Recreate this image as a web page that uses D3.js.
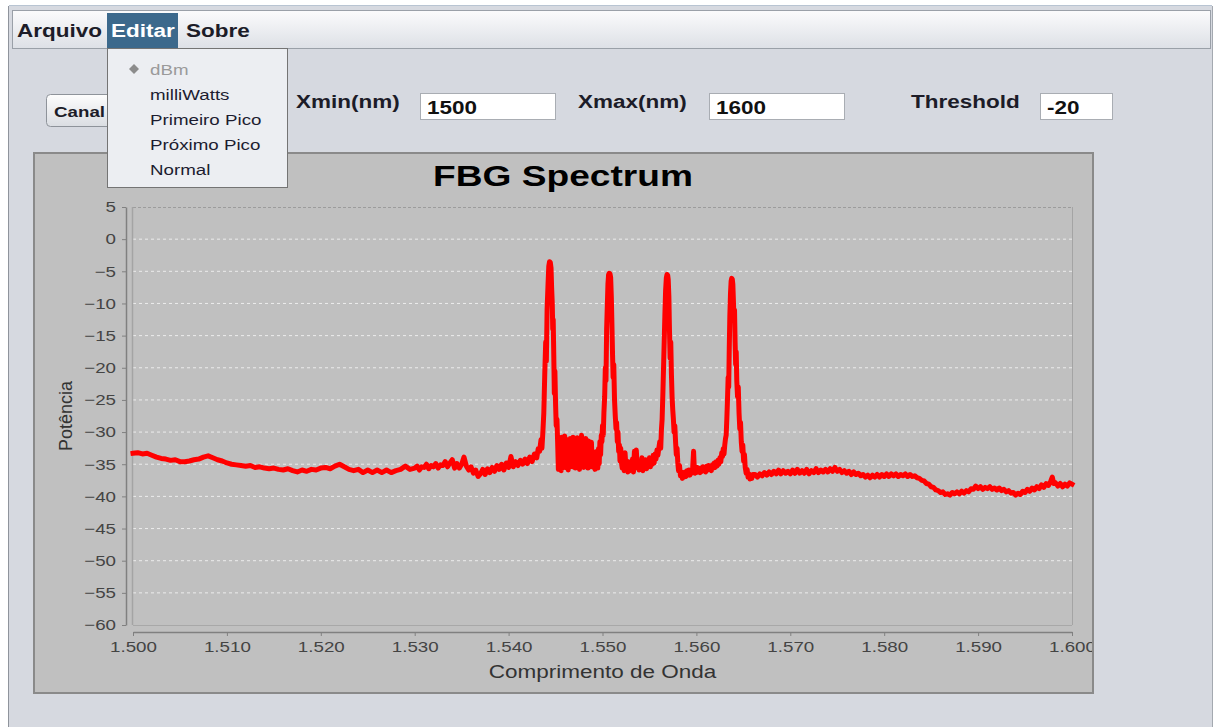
<!DOCTYPE html>
<html><head><meta charset="utf-8">
<script src="https://cdn.jsdelivr.net/npm/d3@7"></script>
<style>html,body{margin:0;padding:0;background:#fff;overflow:hidden}svg{display:block}</style>
</head><body><svg id="c" width="1214" height="727"></svg>
<script>
// ---------- DATA ----------
const chartTitle = "FBG Spectrum";
const xLabel = "Comprimento de Onda";
const yLabel = "Potência";
const menuItems = ["Arquivo", "Editar", "Sobre"];
const dropdownItems = ["dBm", "milliWatts", "Primeiro Pico", "Próximo Pico", "Normal"];
const fieldLabels = ["Xmin(nm)", "Xmax(nm)", "Threshold"];
const fieldValues = ["1500", "1600", "-20"];
const buttonLabel = "Canal";
const xTicks = [1500, 1510, 1520, 1530, 1540, 1550, 1560, 1570, 1580, 1590, 1600];
const yTicks = [5, 0, -5, -10, -15, -20, -25, -30, -35, -40, -45, -50, -55, -60];

// spectrum: [wavelength nm, power dBm]
const baselineLeft = [
[1500.0,-33.3],[1500.5,-33.2],[1501.0,-33.4],[1501.5,-33.3],[1502.0,-33.6],[1502.5,-33.9],
[1503.0,-34.1],[1503.5,-34.2],[1504.0,-34.4],[1504.5,-34.3],[1505.0,-34.6],[1505.5,-34.6],
[1506.0,-34.5],[1506.5,-34.3],[1507.0,-34.2],[1507.5,-33.9],[1508.0,-33.7],[1508.5,-34.0],
[1509.0,-34.3],[1509.5,-34.5],[1510.0,-34.8],[1510.5,-35.0],[1511.0,-35.1],[1511.5,-35.2],
[1512.0,-35.3],[1512.5,-35.2],[1513.0,-35.5],[1513.5,-35.4],[1514.0,-35.6],[1514.5,-35.7],
[1515.0,-35.6],[1515.5,-35.8],[1516.0,-35.9],[1516.5,-35.7],[1517.0,-36.0],[1517.5,-36.2],
[1518.0,-35.9],[1518.5,-36.1],[1519.0,-35.8],[1519.5,-35.9],[1520.0,-35.6],[1520.5,-35.5],
[1521.0,-35.7],[1521.5,-35.3],[1522.0,-35.0],[1522.5,-35.4],[1523.0,-35.8],[1523.5,-36.0],
[1524.0,-35.8],[1524.5,-36.3],[1525.0,-35.9],[1525.5,-36.3],[1526.0,-35.9],[1526.5,-36.3],
[1527.0,-35.9],[1527.5,-36.3],[1528.0,-36.0],[1528.5,-35.8],[1529.0,-35.3],[1529.5,-35.8],
[1530.0,-35.6],[1530.25,-35.3],[1530.5,-35.9],[1530.75,-35.4],[1531.0,-35.5],[1531.25,-35.0],
[1531.5,-35.7],[1531.75,-35.2],[1532.0,-35.4],[1532.25,-34.9],[1532.5,-35.6],[1532.75,-35.1],
[1533.0,-35.2],[1533.25,-34.6],[1533.5,-35.4],[1533.75,-34.8],[1534.0,-34.3],[1534.25,-35.6],
[1534.5,-34.9],[1534.75,-35.6],[1535.0,-35.0],[1535.25,-33.9],[1535.5,-35.3],[1535.75,-35.9],
[1536.0,-35.4],[1536.25,-36.4],[1536.5,-35.9],[1536.75,-36.9],[1537.0,-36.5],[1537.25,-35.8],
[1537.5,-36.6],[1537.75,-35.7],[1538.0,-36.3],[1538.25,-35.5],[1538.5,-36.1],[1538.75,-35.2],
[1539.0,-35.8],[1539.25,-35.0],[1539.5,-35.9],[1539.75,-34.8],[1540.0,-35.5],[1540.25,-33.8],
[1540.5,-35.4],[1540.75,-34.6],[1541.0,-35.2],[1541.25,-34.4],[1541.5,-35.0],[1541.75,-34.2],
[1542.0,-34.9],[1542.25,-33.9],[1542.5,-34.6],[1542.75,-33.4],[1543.0,-34.0]
];
const peakRegion = [
[1543.15,-32.6],[1543.3,-33.0],[1543.45,-31.2],[1543.55,-32.5],[1543.65,-30.0],[1543.75,-27.0],
[1543.85,-21.0],[1543.95,-16.0],[1544.02,-19.0],[1544.1,-11.0],[1544.2,-7.0],[1544.28,-4.2],
[1544.36,-3.5],[1544.44,-3.6],[1544.52,-4.5],[1544.58,-7.5],[1544.65,-10.0],[1544.7,-14.0],
[1544.75,-12.5],[1544.81,-18.0],[1544.87,-24.0],[1544.93,-20.5],[1545.0,-25.5],[1545.07,-29.0],
[1545.15,-28.0],[1545.22,-31.5],[1545.3,-35.8],[1545.38,-31.0],
[1545.45,-35.2],[1545.52,-32.2],[1545.6,-36.0],[1545.67,-30.8],[1545.75,-34.0],[1545.82,-31.5],
[1545.9,-35.5],[1545.97,-30.6],[1546.05,-34.8],[1546.12,-32.0],[1546.2,-35.6],[1546.28,-31.2],
[1546.35,-35.9],[1546.42,-32.5],[1546.5,-35.2],[1546.57,-31.0],[1546.65,-34.5],[1546.72,-31.6],
[1546.8,-35.4],[1546.87,-30.8],[1546.95,-34.0],[1547.02,-32.2],[1547.1,-35.6],[1547.17,-31.0],
[1547.25,-34.9],[1547.32,-30.9],[1547.4,-35.3],[1547.47,-32.0],[1547.55,-35.8],[1547.62,-31.5],
[1547.7,-34.6],[1547.77,-30.5],[1547.85,-33.8],[1547.92,-31.2],[1548.0,-35.5],[1548.07,-31.8],
[1548.15,-34.7],[1548.22,-31.0],[1548.3,-35.2],[1548.37,-32.5],[1548.45,-35.6],[1548.52,-31.4],
[1548.6,-34.6],[1548.67,-32.0],[1548.75,-35.4],[1548.82,-31.6],[1548.9,-35.0],[1548.97,-33.0],
[1549.05,-35.5],[1549.12,-33.2],[1549.2,-35.8],[1549.28,-34.0],[1549.35,-35.4],[1549.42,-33.0],
[1549.5,-35.6],[1549.57,-32.6],[1549.65,-34.9],[1549.72,-31.5],[1549.8,-33.5],[1549.87,-30.5],
[1549.94,-31.5],[1550.0,-29.0],[1550.08,-30.5],[1550.15,-27.0],[1550.23,-24.5],[1550.3,-20.0],
[1550.37,-22.0],[1550.44,-14.0],[1550.52,-10.0],[1550.58,-7.0],[1550.65,-5.5],[1550.72,-5.3],
[1550.8,-5.4],[1550.87,-6.0],[1550.94,-9.0],[1551.0,-13.0],[1551.07,-18.0],[1551.13,-21.5],
[1551.2,-19.5],[1551.28,-25.0],[1551.36,-27.5],[1551.44,-29.5],[1551.5,-28.5],[1551.58,-31.5],
[1551.65,-30.0],[1551.72,-33.0],[1551.8,-32.0],[1551.86,-34.5],[1551.94,-32.5],[1552.02,-34.8],
[1552.1,-35.6],[1552.2,-34.0],[1552.3,-36.0],[1552.4,-33.2],[1552.5,-35.5],[1552.6,-34.5],
[1552.7,-36.2],[1552.8,-35.0],[1552.9,-36.0],[1553.0,-34.6],[1553.1,-35.8],[1553.2,-34.2],
[1553.3,-36.2],[1553.4,-33.0],[1553.5,-35.6],[1553.6,-32.8],[1553.7,-35.4],[1553.8,-34.5],
[1553.9,-35.9],[1554.0,-34.6],[1554.1,-35.5],[1554.2,-34.0],[1554.3,-36.0],[1554.4,-34.8],
[1554.5,-35.6],[1554.6,-34.3],[1554.7,-35.7],[1554.8,-34.5],[1554.9,-35.3],[1555.0,-34.0],
[1555.1,-35.4],[1555.2,-34.3],[1555.3,-35.0],[1555.4,-33.6],[1555.5,-34.8],[1555.6,-33.4],
[1555.7,-34.2],[1555.8,-32.8],[1555.9,-33.6],[1556.0,-32.5],[1556.1,-31.5],[1556.2,-32.5],
[1556.28,-29.5],[1556.35,-28.0],[1556.43,-24.0],[1556.5,-20.0],[1556.57,-16.0],[1556.64,-12.0],
[1556.72,-8.0],[1556.8,-6.0],[1556.87,-5.5],[1556.94,-5.6],[1557.0,-6.3],[1557.07,-9.0],
[1557.13,-14.0],[1557.2,-18.5],[1557.27,-16.0],[1557.34,-21.0],[1557.41,-24.5],[1557.48,-26.5],
[1557.55,-28.0],[1557.62,-30.0],[1557.7,-29.0],[1557.78,-31.5],[1557.86,-33.5],[1557.94,-32.5],
[1558.02,-34.8],[1558.1,-36.0],[1558.2,-35.2],[1558.3,-36.8],[1558.4,-36.2],[1558.5,-37.2],
[1558.6,-36.4],[1558.7,-37.0],[1558.8,-36.2],[1558.9,-36.9],[1559.0,-36.0],[1559.1,-36.6],
[1559.2,-35.9],[1559.3,-36.7],[1559.4,-36.0],[1559.5,-36.4],[1559.6,-35.7],[1559.7,-33.0],
[1559.78,-35.9],[1559.86,-36.4],[1559.94,-35.6],[1560.0,-36.3],[1560.1,-35.5],[1560.2,-36.2],
[1560.3,-35.8],[1560.4,-36.3],[1560.5,-35.6],[1560.6,-36.1],[1560.7,-35.4],[1560.8,-36.0],
[1560.9,-35.5],[1561.0,-36.2],[1561.1,-35.3],[1561.2,-35.9],[1561.3,-35.2],[1561.4,-35.8],
[1561.5,-35.4],[1561.6,-36.0],[1561.7,-35.1],[1561.8,-35.6],[1561.9,-34.8],[1562.0,-35.5],
[1562.1,-34.6],[1562.2,-35.3],[1562.3,-34.4],[1562.4,-35.0],[1562.5,-34.0],[1562.6,-34.6],
[1562.7,-33.2],[1562.78,-33.8],[1562.86,-32.6],[1562.94,-33.4],[1563.02,-32.0],[1563.1,-31.0],
[1563.17,-30.5],[1563.24,-28.0],[1563.31,-25.0],[1563.38,-21.5],[1563.44,-23.0],[1563.5,-17.0],
[1563.56,-12.0],[1563.63,-8.5],[1563.7,-6.5],[1563.76,-6.1],[1563.82,-6.2],[1563.88,-7.0],
[1563.94,-9.5],[1564.0,-12.5],[1564.06,-11.0],[1564.12,-16.0],[1564.18,-19.5],[1564.24,-17.5],
[1564.3,-22.0],[1564.38,-24.5],[1564.46,-23.0],[1564.54,-27.0],[1564.62,-29.5],[1564.7,-28.5],
[1564.78,-31.5],[1564.86,-33.0],[1564.94,-32.0],[1565.03,-34.5],[1565.12,-33.5],[1565.2,-35.5],
[1565.3,-36.4],[1565.4,-35.8],[1565.5,-37.0],[1565.6,-36.5],[1565.7,-37.3],[1565.8,-36.7],
[1565.9,-37.2],[1566.0,-36.6]
];
const baselineRight = [
[1566.25,-36.6],[1566.5,-37.0],[1566.75,-36.5],[1567.0,-36.8],[1567.25,-36.3],[1567.5,-36.7],
[1567.75,-36.2],[1568.0,-36.6],[1568.25,-36.1],[1568.5,-36.5],[1568.75,-35.9],[1569.0,-36.5],
[1569.25,-36.0],[1569.5,-36.4],[1569.75,-36.1],[1570.0,-36.5],[1570.25,-35.9],[1570.5,-36.4],
[1570.75,-35.8],[1571.0,-36.4],[1571.25,-36.0],[1571.5,-36.4],[1571.75,-35.8],[1572.0,-36.5],
[1572.25,-36.0],[1572.5,-36.3],[1572.75,-35.7],[1573.0,-36.3],[1573.25,-35.9],[1573.5,-36.2],
[1573.75,-35.8],[1574.0,-36.2],[1574.25,-35.7],[1574.5,-36.1],[1574.75,-35.5],[1575.0,-36.1],
[1575.25,-35.8],[1575.5,-36.3],[1575.75,-36.0],[1576.0,-36.4],[1576.25,-36.1],[1576.5,-36.6],
[1576.75,-36.2],[1577.0,-36.6],[1577.25,-36.4],[1577.5,-36.8],[1577.75,-36.6],[1578.0,-37.0],
[1578.25,-36.7],[1578.5,-37.1],[1578.75,-36.7],[1579.0,-37.0],[1579.25,-36.6],[1579.5,-37.0],
[1579.75,-36.6],[1580.0,-36.9],[1580.25,-36.5],[1580.5,-36.9],[1580.75,-36.5],[1581.0,-36.8],
[1581.25,-36.5],[1581.5,-36.9],[1581.75,-36.6],[1582.0,-36.8],[1582.25,-36.5],[1582.5,-36.9],
[1582.75,-36.6],[1583.0,-36.9],[1583.25,-36.8],[1583.5,-37.1],[1583.75,-37.2],[1584.0,-37.5],
[1584.25,-37.6],[1584.5,-38.0],[1584.75,-38.1],[1585.0,-38.5],[1585.25,-38.6],[1585.5,-39.0],
[1585.75,-39.1],[1586.0,-39.4],[1586.25,-39.3],[1586.5,-39.7],[1586.75,-39.6],[1587.0,-39.8],
[1587.25,-39.4],[1587.5,-39.6],[1587.75,-39.3],[1588.0,-39.6],[1588.25,-39.2],[1588.5,-39.5],
[1588.75,-39.1],[1589.0,-39.3],[1589.25,-38.8],[1589.5,-38.9],[1589.75,-38.4],[1590.0,-38.8],
[1590.25,-38.5],[1590.5,-38.9],[1590.75,-38.6],[1591.0,-38.8],[1591.25,-38.5],[1591.5,-38.9],
[1591.75,-38.7],[1592.0,-39.0],[1592.25,-38.7],[1592.5,-39.1],[1592.75,-38.9],[1593.0,-39.3],
[1593.25,-39.1],[1593.5,-39.5],[1593.75,-39.4],[1594.0,-39.8],[1594.25,-39.5],[1594.5,-39.7],
[1594.75,-39.2],[1595.0,-39.4],[1595.25,-38.9],[1595.5,-39.2],[1595.75,-38.7],[1596.0,-39.0],
[1596.25,-38.5],[1596.5,-38.8],[1596.75,-38.2],[1597.0,-38.6],[1597.25,-38.0],[1597.5,-38.3],
[1597.75,-37.6],[1597.9,-37.0],[1598.05,-38.0],[1598.25,-37.9],[1598.5,-38.4],[1598.75,-38.0],
[1599.0,-38.5],[1599.25,-38.1],[1599.5,-38.4],[1599.75,-37.9],[1600.0,-38.1]
];

// ---------- DRAW ----------
const svg = d3.select("#c");
const FONT = '"Liberation Sans", Arial, Helvetica, sans-serif';
const SX = 1.25;

function txt(parent, x, y, s, o) {
  o = o || {};
  return parent.append("text")
    .attr("transform", `translate(${x},${y}) scale(${o.sx || SX},1)`)
    .attr("text-anchor", o.anchor || "start")
    .style("font-family", FONT)
    .style("font-size", (o.size || 15) + "px")
    .style("font-weight", o.weight || "normal")
    .attr("fill", o.fill || "#000")
    .text(s);
}

const defs = svg.append("defs");
const gMenu = defs.append("linearGradient").attr("id", "gMenu").attr("x1", 0).attr("x2", 0).attr("y1", 0).attr("y2", 1);
gMenu.append("stop").attr("offset", "0%").attr("stop-color", "#fbfbfc");
gMenu.append("stop").attr("offset", "100%").attr("stop-color", "#dde0e6");
const gBtn = defs.append("linearGradient").attr("id", "gBtn").attr("x1", 0).attr("x2", 0).attr("y1", 0).attr("y2", 1);
gBtn.append("stop").attr("offset", "0%").attr("stop-color", "#fdfdfd");
gBtn.append("stop").attr("offset", "100%").attr("stop-color", "#dadde2");
defs.append("clipPath").attr("id", "panelClip").append("rect")
  .attr("x", 35).attr("y", 154).attr("width", 1057).attr("height", 538);

// window background
svg.append("rect").attr("x", 0).attr("y", 0).attr("width", 1214).attr("height", 727).attr("fill", "#ffffff");
svg.append("rect").attr("x", 9).attr("y", 6).attr("width", 1203).attr("height", 721).attr("fill", "#d6d9e0");
svg.append("line").attr("x1", 9).attr("x2", 1212).attr("y1", 5.5).attr("y2", 5.5).attr("stroke", "#b8c4d2");
svg.append("line").attr("x1", 8.5).attr("x2", 8.5).attr("y1", 6).attr("y2", 727).attr("stroke", "#8f949c");
svg.append("line").attr("x1", 1212.5).attr("x2", 1212.5).attr("y1", 6).attr("y2", 727).attr("stroke", "#a4a9b0");

// menu bar
svg.append("rect").attr("x", 12.5).attr("y", 10.5).attr("width", 1198).attr("height", 38)
  .attr("fill", "url(#gMenu)").attr("stroke", "#9aa0a8");
svg.append("rect").attr("x", 107).attr("y", 13).attr("width", 71).attr("height", 35).attr("fill", "#3c698c");
const menuX = [17, 111, 186];
menuItems.forEach((m, i) => {
  txt(svg, menuX[i], 37, m, { size: 18, weight: "bold", fill: i === 1 ? "#ffffff" : "#1c1c28" });
});

// Canal button
svg.append("rect").attr("x", 46.5).attr("y", 94.5).attr("width", 80).attr("height", 32).attr("rx", 4)
  .attr("fill", "url(#gBtn)").attr("stroke", "#8e939a");
txt(svg, 54, 117, buttonLabel, { size: 15, weight: "bold", fill: "#1c1c28" });

// fields
const labelX = [296, 578, 911];
const boxX = [420, 709, 1040];
const boxW = [135, 135, 72];
fieldLabels.forEach((l, i) => {
  txt(svg, labelX[i], 108, l, { size: 18, weight: "bold", fill: "#1c1c28" });
  svg.append("rect").attr("x", boxX[i] + 0.5).attr("y", 93.5).attr("width", boxW[i]).attr("height", 26)
    .attr("fill", "#ffffff").attr("stroke", "#a9adb3");
  txt(svg, boxX[i] + 7, 114, fieldValues[i], { size: 18, weight: "bold", fill: "#111" });
});

// chart panel
svg.append("rect").attr("x", 34).attr("y", 153).attr("width", 1059).attr("height", 540)
  .attr("fill", "#c0c0c0").attr("stroke", "#8a8a8a").attr("stroke-width", 2);
const panel = svg.append("g").attr("clip-path", "url(#panelClip)");

const plot = { l: 133, r: 1072, t: 207, b: 625 };
const x = d3.scaleLinear().domain([1500, 1600]).range([plot.l, plot.r]);
const y = d3.scaleLinear().domain([-60, 5]).range([plot.b, plot.t]);

// title
txt(panel, 563, 186, chartTitle, { size: 29, weight: "bold", fill: "#000", anchor: "middle", sx: 1.28 });

// grid
panel.append("g").selectAll("line").data(yTicks.filter(v => v < 5 && v > -60)).join("line")
  .attr("x1", plot.l).attr("x2", plot.r).attr("y1", d => y(d)).attr("y2", d => y(d))
  .attr("stroke", "#ececec").attr("stroke-width", 1).attr("stroke-dasharray", "3,3");

// plot border
panel.append("line").attr("x1", plot.l).attr("x2", plot.r).attr("y1", plot.t + 0.5).attr("y2", plot.t + 0.5)
  .attr("stroke", "#9c9c9c").attr("stroke-dasharray", "3,2");
panel.append("line").attr("x1", plot.l).attr("x2", plot.r).attr("y1", plot.b + 0.5).attr("y2", plot.b + 0.5)
  .attr("stroke", "#a8a8a8");
panel.append("line").attr("x1", plot.l - 0.5).attr("x2", plot.l - 0.5).attr("y1", plot.t).attr("y2", plot.b)
  .attr("stroke", "#a4a4a4").attr("stroke-width", 1.5);
panel.append("line").attr("x1", plot.r + 0.5).attr("x2", plot.r + 0.5).attr("y1", plot.t).attr("y2", plot.b)
  .attr("stroke", "#a4a4a4");

// axes
const yAxis = panel.append("g").attr("transform", "translate(126,0)")
  .call(d3.axisLeft(y).tickValues(yTicks).tickSize(4).tickSizeOuter(0).tickFormat(d3.format("d")));
yAxis.select(".domain").attr("stroke", "#808080").attr("stroke-width", 1.5);
yAxis.selectAll(".tick line").attr("stroke", "#808080");
yAxis.selectAll(".tick text")
  .attr("x", -10 / SX).attr("transform", `scale(${SX},1)`)
  .style("font-family", FONT).style("font-size", "15px").attr("fill", "#444");

const fmtX = v => d3.format(",")(v).replace(",", "."); // 1500 -> "1.500"
const xAxis = panel.append("g").attr("transform", "translate(0,632)")
  .call(d3.axisBottom(x).tickValues(xTicks).tickSize(4).tickSizeOuter(0).tickFormat(fmtX));
xAxis.select(".domain").attr("stroke", "#808080").attr("stroke-width", 1.5);
xAxis.selectAll(".tick line").attr("stroke", "#808080");
xAxis.selectAll(".tick text")
  .attr("y", 9.4).attr("transform", `scale(${SX},1)`)
  .style("font-family", FONT).style("font-size", "15px").attr("fill", "#444");

// axis labels
txt(panel, (plot.l + plot.r) / 2, 678, xLabel, { size: 18, fill: "#333", anchor: "middle" });
panel.append("text")
  .attr("transform", `translate(72,${(plot.t + plot.b) / 2}) rotate(-90)`)
  .attr("text-anchor", "middle")
  .style("font-family", FONT).style("font-size", "18px").attr("fill", "#333")
  .text(yLabel);

// series
const pts = baselineLeft.concat(peakRegion, baselineRight);
panel.append("path").datum(pts)
  .attr("d", d3.line().x(d => x(d[0])).y(d => y(d[1])))
  .attr("fill", "none").attr("stroke", "#ff0000").attr("stroke-width", 5)
  .attr("stroke-linejoin", "round").attr("stroke-linecap", "square");

// dropdown menu (on top)
svg.append("rect").attr("x", 107.5).attr("y", 48.5).attr("width", 180).attr("height", 139)
  .attr("fill", "#eceef2").attr("stroke", "#747474");
svg.append("path").attr("d", "M134,64 L139,69 L134,74 L129,69 Z").attr("fill", "#8c8c8c");
dropdownItems.forEach((d, i) => {
  txt(svg, 150, 75 + i * 25, d, { size: 15, fill: i === 0 ? "#9a9a9a" : "#1c1c30" });
});
</script>
</body></html>
